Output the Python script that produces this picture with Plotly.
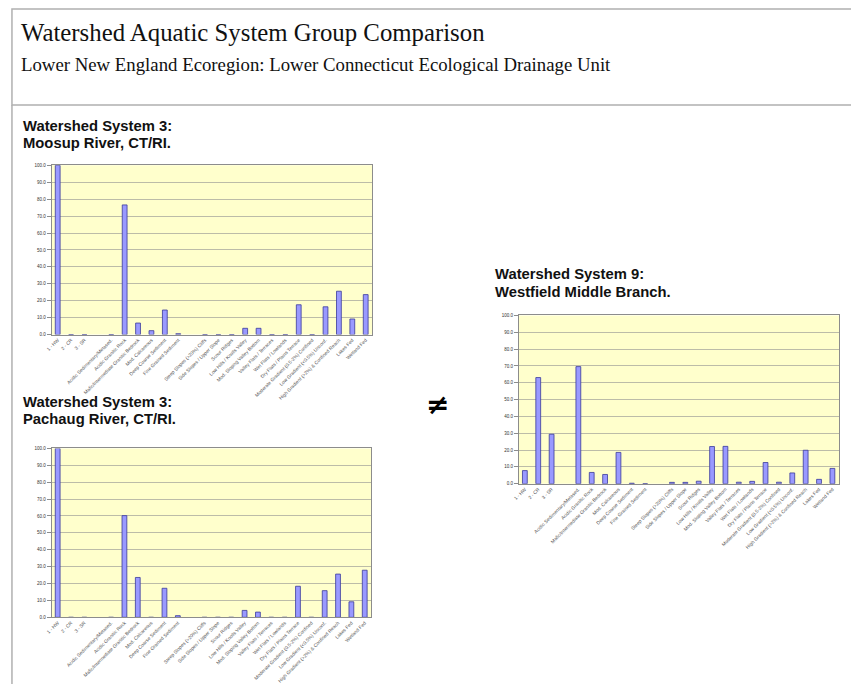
import plotly.graph_objects as go

W, H = 851, 684

# ---- data ----
categories = [
    "1 - HW", "2 - CR", "3 - SR", " ",
    "Acidic Sedimentary/Metased.", "Acidic Granitic Rock",
    "Mafic/Intermediate Granitic Bedrock", "Mod. Calcareous",
    "Deep Coarse Sediment", "Fine Grained Sediment", "  ",
    "Steep Slopes (>20%) Cliffs", "Side Slopes / Upper Slope", "Scour Ridges",
    "Low Hills / Knolls Valley", "Mod. Sloping Valley Bottom",
    "Valley Flats / Terraces", "Wet Flats / Lowlands",
    "Dry Flats / Plains Terrace", "Moderate Gradient (0.5-2%) Confined",
    "Low Gradient (<0.5%) Unconf.", "High Gradient (>2%) & Confined Reach",
    "Lakes Fed", "Wetland Fed",
]
tick_values = ["0.0", "10.0", "20.0", "30.0", "40.0", "50.0",
               "60.0", "70.0", "80.0", "90.0", "100.0"]

moosup = [100, 0, 0, None, 0, 76.6, 6.8, 2.3, 14.5, 0.5, None,
          0, 0, 0, 3.7, 3.7, 0, 0, 17.6, 0, 16.4, 25.6, 9.2, 23.6]
pachaug = [100, 0, 0, None, 0, 60.2, 23.6, 0, 17.2, 1.0, None,
           0, 0, 0, 4.1, 3.1, 0, 0, 18.4, 0, 15.8, 25.6, 9.2, 27.9]
westfield = [7.8, 63.1, 29.4, None, 69.6, 6.7, 5.5, 18.6, 0.3, 0, None,
             0.8, 0.8, 1.5, 22.1, 22.2, 0.9, 1.4, 12.6, 0.9, 6.4, 19.9, 2.6, 9.1]

title = "Watershed Aquatic System Group Comparison"
subtitle = "Lower New England Ecoregion: Lower Connecticut Ecological Drainage Unit"
charts = [
    ("Watershed System 3:", "Moosup River, CT/RI.", moosup),
    ("Watershed System 3:", "Pachaug River, CT/RI.", pachaug),
    ("Watershed System 9:", "Westfield Middle Branch.", westfield),
]

# ---- layout helpers (pixel -> paper) ----
def px(x):
    return x / W

def py(y):
    return 1 - y / H

# plot-area boxes in pixels: (x0, x1, ytop, ybottom)
boxes = [(46, 369, 165, 336), (46, 368, 451, 621.7), (516.5, 839, 316.7, 486.7)]
title_pos = [(16, 125.5, 142.5), (16, 404, 421.5), (491, 275, 292.5)]

fig = go.Figure()
idx = list(range(len(categories)))

for i, ((t1, t2, vals), (x0, x1, yt, yb)) in enumerate(zip(charts, boxes)):
    n = "" if i == 0 else str(i + 1)
    fig.add_trace(go.Bar(
        x=idx, y=vals, xaxis="x" + n, yaxis="y" + n,
        marker=dict(color="#9999ff", line=dict(color="#3a3a9a", width=0.8)),
        showlegend=False, hoverinfo="skip",
    ))
    fig.layout["xaxis" + n] = dict(
        domain=[px(x0), px(x1)], anchor="y" + n, range=[-0.45, 23.5],
        tickmode="array", tickvals=idx, ticktext=categories, tickangle=-45,
        tickfont=dict(size=4.8, color="#555555", family="Liberation Sans"),
        showgrid=False, zeroline=False, showline=True, mirror=True,
        linecolor="#8c8c8c", linewidth=1, ticks="", fixedrange=True,
    )
    fig.layout["yaxis" + n] = dict(
        domain=[py(yb), py(yt)], anchor="x" + n, range=[0, 100],
        tickmode="array", tickvals=[float(v) for v in tick_values], ticktext=tick_values,
        tickfont=dict(size=4.5, color="#333333", family="Liberation Sans"),
        showgrid=True, gridcolor="#bcbca8", gridwidth=1, zeroline=False,
        showline=True, mirror=True, linecolor="#8c8c8c", linewidth=1,
        ticks="outside", ticklen=4, tickcolor="#8c8c8c", fixedrange=True,
    )
    tx, ty1, ty2 = title_pos[i]
    for txt, yy in ((t1, ty1), (t2, ty2)):
        fig.add_annotation(
            text="<b>" + txt + "</b>", x=px(tx), y=py(yy), xref="paper", yref="paper",
            xanchor="left", yanchor="middle", showarrow=False, borderpad=0,
            font=dict(size=14.8, color="#111111", family="Liberation Sans"),
        )
    # plot-area background
    fig.add_shape(type="rect", xref="paper", yref="paper",
                  x0=px(x0), x1=px(x1), y0=py(yb), y1=py(yt),
                  fillcolor="#ffffcc", line=dict(width=0), layer="below")

# header
fig.add_annotation(text=title, x=px(13), y=py(31), xref="paper", yref="paper",
                   xanchor="left", yanchor="middle", showarrow=False,
                   font=dict(size=24.8, color="#111111", family="Liberation Serif"))
fig.add_annotation(text=subtitle, x=px(13), y=py(63), xref="paper", yref="paper",
                   xanchor="left", yanchor="middle", showarrow=False,
                   font=dict(size=18.8, color="#111111", family="Liberation Serif"))
fig.add_shape(type="rect", xref="paper", yref="paper",
              x0=px(6), x1=px(860), y0=py(104), y1=py(7),
              line=dict(color="#b0b0b0", width=1.5), fillcolor="rgba(0,0,0,0)")
fig.add_shape(type="line", xref="paper", yref="paper",
              x0=px(6), x1=px(6), y0=py(104), y1=py(690),
              line=dict(color="#b0b0b0", width=1.5))

# not-equal sign
fig.add_annotation(text="<b>≠</b>", x=px(435), y=py(407), xref="paper", yref="paper",
                   xanchor="center", yanchor="middle", showarrow=False,
                   font=dict(size=28, color="#000000", family="DejaVu Sans"))

fig.update_layout(
    width=W, height=H, margin=dict(l=0, r=0, t=0, b=0),
    paper_bgcolor="white", plot_bgcolor="rgba(0,0,0,0)",
    bargap=0.64,
)
fig.write_html(
    "out.html",
    config={"displayModeBar": False},
    post_script="document.body.style.margin='0';document.body.style.overflow='hidden';",
)
